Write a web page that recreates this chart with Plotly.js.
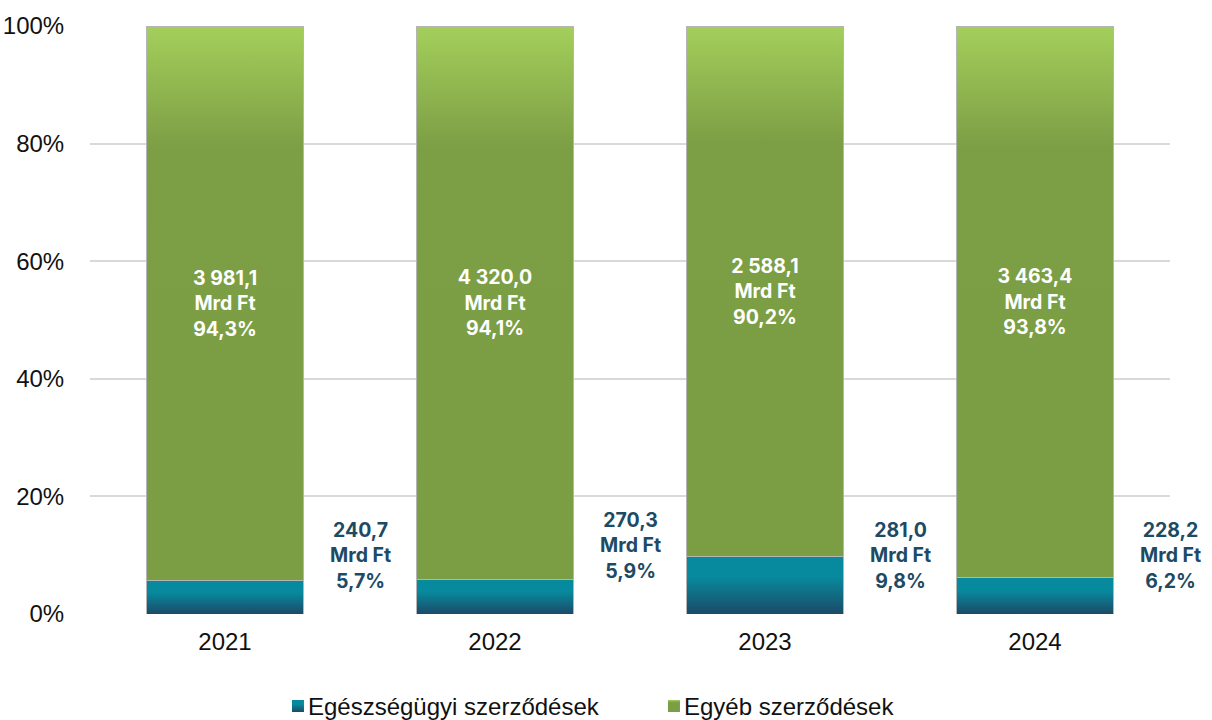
<!DOCTYPE html>
<html>
<head>
<meta charset="utf-8">
<script src="https://cdn.plot.ly/plotly-3.0.1.min.js"></script>
<style>
  html, body { margin: 0; padding: 0; background: #ffffff; }
  #chart { width: 1212px; height: 720px; }
  #err { position: absolute; left: 200px; top: 100px; color: red; font: 14px sans-serif; }
</style>
</head>
<body>
<div id="chart"></div>
<div id="err"></div>
<script>
window.onerror = function (m, s, l, c, e) { document.getElementById('err').textContent += ' ERR: ' + m + ' @' + l; };
// ---- data ----
const years = ['2021', '2022', '2023', '2024'];
const healthShare = [5.7, 5.9, 9.8, 6.2];
const otherShare = [94.3, 94.1, 90.2, 93.8];
const healthAmount = ['240,7', '270,3', '281,0', '228,2'];
const otherAmount = ['3 981,1', '4 320,0', '2 588,1', '3 463,4'];
const seriesNames = ['Egészségügyi szerződések', 'Egyéb szerződések'];
const yTickVals = [0, 20, 40, 60, 80, 100];
const yTickText = ['0%', '20%', '40%', '60%', '80%', '100%'];

const fmtPct = v => v.toFixed(1).replace('.', ',') + '%';

const LABEL_FONT = 'Inter, Liberation Sans, Arial, sans-serif';
const AXIS_FONT = 'Liberation Sans, Arial, sans-serif';

const traces = [
  {
    type: 'bar', name: seriesNames[0], x: years, y: healthShare,
    marker: { color: '#0a7f96', line: { color: '#b5b5b5', width: 1 } },
    width: 0.58
  },
  {
    type: 'bar', name: seriesNames[1], x: years, y: otherShare,
    marker: { color: '#7b9e44', line: { color: '#b5b5b5', width: 1 } },
    text: otherShare.map((v, i) => '<b>' + otherAmount[i] + '<br>Mrd Ft<br>' + fmtPct(v) + '</b>'),
    textposition: 'inside', insidetextanchor: 'middle', textangle: 0,
    textfont: { family: LABEL_FONT, size: 19.5, color: '#ffffff' },
    width: 0.58
  }
];

const labelYShift = [0, 10, 0, 0];
const annotations = years.map((yr, i) => ({
  x: i, y: 10, xref: 'x', yref: 'y', xshift: 135, yshift: labelYShift[i],
  text: '<b>' + healthAmount[i] + '<br>Mrd Ft<br>' + fmtPct(healthShare[i]) + '</b>',
  showarrow: false, align: 'center',
  font: { family: LABEL_FONT, size: 19.5, color: '#1d4a64' }
}));

const layout = {
  width: 1212, height: 720,
  margin: { l: 90, r: 42, t: 26, b: 106, autoexpand: false },
  barmode: 'stack',
  paper_bgcolor: '#ffffff', plot_bgcolor: '#ffffff',
  font: { family: AXIS_FONT, color: '#111111', size: 24 },
  xaxis: {
    type: 'category', range: [-0.5, 3.5], showgrid: false, zeroline: false, showline: false,
    ticks: 'outside', ticklen: 6, tickcolor: 'rgba(0,0,0,0)',
    tickfont: { family: AXIS_FONT, size: 24, color: '#111111' }
  },
  yaxis: {
    range: [0, 100], tickmode: 'array', tickvals: yTickVals, ticktext: yTickText,
    showgrid: true, gridcolor: '#d9d9d9', gridwidth: 2, zeroline: false,
    showline: false, ticks: 'outside', ticklen: 20, tickcolor: 'rgba(0,0,0,0)',
    tickfont: { family: AXIS_FONT, size: 24, color: '#111111' }
  },
  showlegend: true,
  legend: {
    orientation: 'h', xref: 'container', x: 0.2211, xanchor: 'left',
    y: -0.157, yanchor: 'middle',
    font: { family: AXIS_FONT, size: 24, color: '#111111' }, traceorder: 'normal',
    entrywidth: 331, entrywidthmode: 'pixels'
  },
  annotations: annotations
};

try {
  Plotly.newPlot('chart', traces, layout, { displayModeBar: false }).then(gd => {
    const svg = gd.querySelector('svg.main-svg');
    const ns = 'http://www.w3.org/2000/svg';
    let defs = svg.querySelector('defs');
    if (!defs) { defs = document.createElementNS(ns, 'defs'); svg.insertBefore(defs, svg.firstChild); }
    function grad(id, stops) {
      const g = document.createElementNS(ns, 'linearGradient');
      g.setAttribute('id', id);
      g.setAttribute('x1', '0'); g.setAttribute('y1', '0');
      g.setAttribute('x2', '0'); g.setAttribute('y2', '1');
      stops.forEach(([o, c]) => {
        const s = document.createElementNS(ns, 'stop');
        s.setAttribute('offset', o); s.setAttribute('stop-color', c);
        g.appendChild(s);
      });
      defs.appendChild(g);
    }
    grad('gBlue', [['0', '#078a9e'], ['0.35', '#078a9e'], ['1', '#1c4a67']]);
    grad('gGreen', [['0', '#a4cf5b'], ['0.22', '#7c9e45'], ['1', '#7b9d44']]);
    gd.querySelectorAll('.barlayer .trace').forEach((tg, i) => {
      tg.querySelectorAll('.point path').forEach(p => {
        p.style.fill = i === 0 ? 'url(#gBlue)' : 'url(#gGreen)';
      });
    });
    gd.querySelectorAll('.legend .traces').forEach((lt, i) => {
      const lp = lt.querySelector('.legendpoints');
      if (lp) lp.setAttribute('transform', 'translate(10,0)');
      lt.querySelectorAll('.legendpoints path').forEach(p => {
        p.style.fill = i === 0 ? 'url(#gBlue)' : 'url(#gGreen)';
        p.style.stroke = 'none';
      });
    });
  }).catch(e => { document.getElementById('err').textContent += ' PROMISE: ' + e; });
} catch (e) {
  document.getElementById('err').textContent += ' CATCH: ' + e;
}
</script>
</body>
</html>
